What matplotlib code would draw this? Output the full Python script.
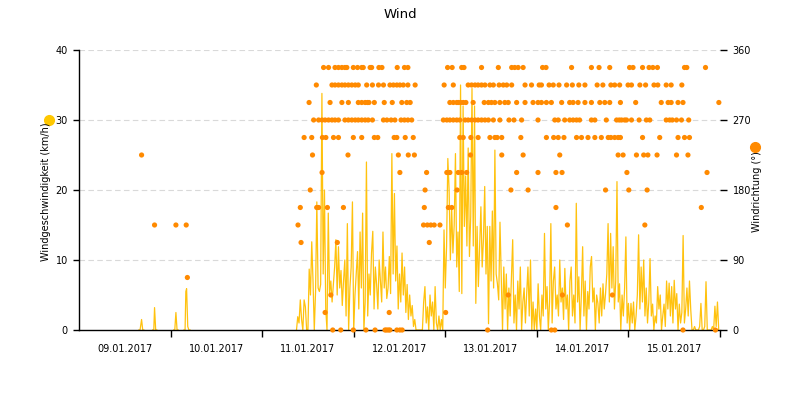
import matplotlib
matplotlib.use("Agg")
import matplotlib.pyplot as plt
import matplotlib.dates as mdates
import pandas as pd

# time origin of the chart
start = pd.Timestamp("2017-01-09 00:00")
end = pd.Timestamp("2017-01-16 00:00")

# short bursts of data on 09./10.01 (hours after start, km/h)
early_hours = [15.7, 16.0, 16.4, 16.7, 17.0,
               19.3, 19.6, 19.8, 20.1, 20.4,
               24.8, 25.1, 25.4, 25.7, 26.0,
               27.5, 27.8, 28.0, 28.2, 28.5, 28.8, 29.1]
early_speed = [0, 0, 1.5, 0, 0,
               0, 0, 3.2, 0, 0,
               0, 0, 2.5, 0, 0,
               0, 0, 5.5, 5.9, 0.5, 0, 0]

# continuous wind speed from 11.01 09:00, one value every 20 minutes (km/h)
speed_start = pd.Timestamp("2017-01-11 09:00")
speed = [
    0, 1.9, 1.0, 4.3, 1.5, 0, 4.3, 3.3, 0, 0, 8.7, 5.0, 12.6, 7.0, 0, 5.5, 18.3, 6.0, 5.5, 6.5, 33.8, 8.0, 20.0, 3.0,
    0, 16.7, 5.2, 7.0, 4.0, 6.5, 9.0, 12.9, 5.0, 11.9, 6.0, 8.5, 3.5, 7.0, 10.0, 2.0, 15.2, 0, 6.0, 9.0, 18.3, 0, 5.0, 8.0,
    11.2, 3.0, 14.0, 6.0, 16.7, 0, 4.0, 24.0, 2.0, 8.0, 5.0, 11.0, 14.1, 3.0, 9.0, 6.5, 3.0, 10.0, 7.0, 4.0, 14.0, 6.0, 9.0, 4.5,
    6.0, 10.5, 5.2, 25.2, 8.0, 19.5, 7.0, 12.0, 3.0, 8.0, 4.0, 11.0, 5.0, 9.0, 2.5, 6.5, 1.5, 5.0, 2.0, 3.5, 0.5, 1.5, 0, 0,
    0, 0, 0, 0, 4.0, 6.2, 1.0, 3.3, 0, 5.0, 2.0, 4.0, 0, 6.2, 1.0, 0, 2.0, 0, 1.5, 0, 14.3, 6.0, 11.9, 24.5,
    20.0, 10.0, 17.6, 11.0, 15.0, 25.2, 9.0, 14.0, 5.5, 35.0, 5.2, 32.0, 14.8, 22.0, 12.0, 26.0, 10.5, 16.2, 34.5, 12.0, 32.0, 3.8, 14.8, 6.2,
    12.0, 17.6, 9.0, 12.9, 20.5, 8.0, 14.8, 0.9, 14.8, 7.0, 17.0, 6.0, 25.7, 8.0, 6.6, 4.3, 15.4, 7.6, 0, 9.0, 3.0, 8.0, 0, 6.0,
    2.0, 7.6, 12.9, 1.0, 5.0, 0, 7.0, 3.0, 9.0, 0, 4.0, 6.0, 1.0, 5.2, 9.0, 2.0, 10.0, 0, 4.0, 0, 3.0, 0, 6.6, 2.0,
    0, 5.0, 2.0, 13.8, 3.0, 6.2, 0, 4.0, 15.2, 1.0, 7.0, 9.0, 3.0, 5.0, 2.0, 10.0, 4.0, 6.0, 1.5, 8.8, 3.0, 5.0, 0, 7.0,
    9.0, 2.0, 5.0, 1.0, 18.1, 4.0, 7.6, 0, 5.0, 11.9, 2.0, 7.0, 0, 5.5, 3.0, 9.0, 10.5, 4.0, 6.0, 0, 5.0, 3.8, 1.0, 6.0,
    2.0, 6.6, 3.0, 5.2, 8.0, 15.2, 4.0, 13.8, 6.0, 11.9, 3.0, 7.0, 21.2, 4.0, 6.6, 0, 5.0, 2.0, 6.0, 13.3, 1.0, 3.8, 0, 3.8,
    1.0, 4.0, 0, 2.0, 5.0, 13.6, 3.0, 9.0, 4.0, 10.0, 2.0, 6.0, 1.0, 4.0, 10.2, 2.0, 3.7, 0, 2.0, 1.0, 6.2, 3.0, 5.0, 0,
    2.0, 3.7, 0.5, 7.0, 3.0, 6.7, 2.0, 6.2, 1.0, 7.1, 3.0, 5.2, 0, 3.7, 1.0, 2.5, 13.5, 1.0, 3.0, 6.0, 2.0, 7.0, 2.9, 0,
    0, 0.5, 0, 0, 0, 0.5, 3.8, 0, 0, 0.5, 6.9, 0, 0, 0, 0, 0.5, 0, 3.4, 0.5, 4.0, 0,
]

# wind direction readings, grouped by compass sector (hours after start)
dir_nnw = [64.1, 65.4, 67.1, 68.0, 68.9, 69.7, 70.2, 71.9, 73.0, 74.1, 74.5, 76.3, 76.7, 78.6, 79.4, 83.4,
           85.3, 86.2, 96.6, 97.8, 100.3, 100.9, 105.5, 109.9, 113.4, 114.2, 115.1, 116.4, 121.5, 122.4,
           129.1, 134.3, 136.3, 139.1, 144.3, 145.2, 147.7, 149.4, 150.4, 151.6, 158.7, 159.3, 164.2]
dir_nw = [62.2, 66.3, 67.1, 68.0, 68.9, 69.7, 70.6, 71.5, 72.4, 73.2, 75.4, 76.9, 78.5, 79.8, 81.5, 82.4,
          83.3, 84.1, 85.0, 86.2, 88.1, 95.7, 98.1, 102.0, 102.9, 103.8, 104.6, 105.5, 106.4, 107.7, 108.6,
          110.1, 111.2, 112.1, 113.4, 116.9, 118.6, 120.6, 121.2, 123.2, 124.3, 125.8, 127.8, 129.3, 131.0,
          132.6, 135.8, 137.3, 139.4, 140.4, 141.7, 143.9, 144.8, 147.0, 148.5, 150.7, 151.7, 153.9, 155.2, 158.0]
dir_wnw = [60.3, 65.8, 68.9, 70.6, 73.2, 74.1, 75.0, 75.6, 76.0, 77.4, 80.0, 82.1, 84.6, 85.9, 86.8, 97.2,
           98.1, 99.0, 99.4, 100.0, 100.7, 101.4, 103.3, 106.2, 107.3, 108.1, 109.0, 110.3, 111.6, 112.5,
           114.7, 116.9, 119.0, 120.3, 121.2, 122.5, 123.8, 126.5, 128.6, 129.5, 130.8, 132.6, 134.3, 136.5,
           137.8, 139.1, 141.9, 145.9, 152.6, 154.4, 155.2, 157.0, 158.3, 167.7]
dir_w = [61.5, 62.8, 63.7, 64.5, 65.4, 66.3, 67.1, 68.0, 69.7, 70.6, 71.5, 72.4, 73.2, 74.1, 75.0, 75.8,
         76.9, 79.8, 80.7, 81.8, 82.8, 84.4, 85.3, 86.2, 87.2, 95.5, 96.4, 97.2, 98.1, 99.0, 99.8, 101.2,
         102.0, 102.9, 103.8, 104.6, 105.5, 106.4, 107.3, 108.6, 110.3, 112.7, 114.0, 116.0, 120.3, 124.7,
         125.6, 127.3, 128.6, 129.5, 130.4, 131.2, 134.3, 135.2, 138.2, 140.9, 141.6, 142.2, 143.0, 143.5,
         144.8, 146.8, 148.7, 149.6, 153.9, 154.8, 155.5, 156.6, 157.9, 159.8]
dir_wsw = [59.0, 61.0, 63.8, 64.7, 66.7, 68.0, 71.9, 74.1, 77.4, 78.3, 82.6, 83.3, 85.5, 87.6, 99.8, 100.7,
           102.7, 104.6, 107.7, 109.0, 109.6, 110.8, 115.8, 122.5, 124.4, 125.6, 127.1, 130.4, 131.7, 133.4,
           135.2, 136.9, 138.7, 139.4, 140.4, 141.3, 141.9, 147.7, 152.2, 157.0, 158.7, 160.0]
dir_sw = [16.4, 61.2, 70.5, 83.7, 86.3, 87.9, 102.6, 110.8, 116.4, 126.0, 141.3, 142.6, 146.1, 148.0,
          149.1, 151.5, 156.6, 159.6]
dir_ssw = [63.7, 84.1, 91.1, 96.4, 97.2, 99.4, 100.3, 101.6, 114.7, 120.3, 125.0, 126.6, 143.6, 164.6]
dir_s = [60.6, 90.7, 99.1, 113.2, 117.7, 138.0, 144.1, 148.9]
dir_sse = [58.0, 62.3, 62.8, 65.1, 69.3, 90.5, 96.8, 97.7, 125.0, 163.1]
dir_se = [19.8, 25.4, 28.1, 57.4, 90.3, 91.3, 92.2, 93.1, 94.6, 128.0, 148.3]
dir_ese = [58.2, 67.7, 91.8]
dir_ene = [28.4]
dir_ne = [66.0, 112.5, 126.7, 139.8]
dir_nne = [64.5, 81.3, 96.1]
dir_n = [66.5, 68.6, 71.9, 75.2, 77.6, 80.2, 80.6, 81.1, 81.5, 83.3, 84.1, 84.7, 107.1, 123.8, 124.7,
         158.3, 166.8]

sectors = [(337.5, dir_nnw), (315, dir_nw), (292.5, dir_wnw), (270, dir_w), (247.5, dir_wsw),
           (225, dir_sw), (202.5, dir_ssw), (180, dir_s), (157.5, dir_sse), (135, dir_se),
           (112.5, dir_ese), (67.5, dir_ene), (45, dir_ne), (22.5, dir_nne), (0, dir_n)]

speed_color = "#FFC20E"
dir_color = "#FF8A00"
grid_color = "#D9D9D9"
fs = 7

fig = plt.figure(figsize=(8, 4), dpi=100)
ax = fig.add_axes([79 / 800, 70 / 400, 641 / 800, 280 / 400])

# wind speed
t_early = start + pd.to_timedelta(early_hours, unit="h")
for a, b in [(0, 5), (5, 10), (10, 15), (15, 22)]:
    ax.plot(t_early[a:b], early_speed[a:b], color=speed_color, lw=0.9, zorder=2)
t_speed = pd.date_range(speed_start, periods=len(speed), freq="20min")
ax.plot(t_speed, speed, color=speed_color, lw=0.9, zorder=2)

ax.set_xlim(start, end)
ax.set_ylim(0, 40)
ax.set_yticks([0, 10, 20, 30, 40])
for v in [10, 20, 30, 40]:
    ax.axhline(v, color=grid_color, lw=0.8, ls=(0, (5, 3)), zorder=0)

ax.xaxis.set_major_locator(mdates.DayLocator(bymonthday=[10, 11, 12, 13, 14, 15, 16]))
ax.xaxis.set_major_formatter(plt.NullFormatter())
ax.xaxis.set_minor_locator(mdates.HourLocator(byhour=[12]))
ax.xaxis.set_minor_formatter(mdates.DateFormatter("%d.%m.%Y"))
ax.tick_params(axis="x", which="major", length=5, width=1, color="black")
ax.tick_params(axis="x", which="minor", length=0, pad=10, labelsize=fs)
ax.tick_params(axis="y", length=4, width=1, pad=4, labelsize=fs)

for side in ["top", "right"]:
    ax.spines[side].set_visible(False)
ax.spines["left"].set_linewidth(1)
ax.spines["bottom"].set_linewidth(1)

# wind direction on the right axis
ax2 = ax.twinx()
for deg, hours in sectors:
    t = start + pd.to_timedelta(hours, unit="h")
    ax2.scatter(t, [deg] * len(hours), s=14, color=dir_color, edgecolors="none", zorder=3, clip_on=False)
ax2.set_ylim(0, 360)
ax2.set_yticks([0, 90, 180, 270, 360])
ax2.tick_params(axis="y", length=5, width=1, pad=4, labelsize=fs)
for side in ["top", "left", "right", "bottom"]:
    ax2.spines[side].set_visible(False)
ax2.set_xlim(start, end)

# titles and axis labels
fig.text(0.5, 1 - 15 / 400, "Wind", ha="center", va="center", fontsize=9.5)
fig.text(46 / 800, 1 - 192 / 400, "Windgeschwindigkeit (km/h)", rotation=90,
         ha="center", va="center", fontsize=fs)
fig.text(757 / 800, 1 - 192 / 400, "Windrichtung (°)", rotation=90,
         ha="center", va="center", fontsize=fs)
fig.lines.append(plt.Line2D([49 / 800], [1 - 120 / 400], marker="o", ms=7, color="#FFC800",
                            transform=fig.transFigure, figure=fig))
fig.lines.append(plt.Line2D([755 / 800], [1 - 147 / 400], marker="o", ms=7, color=dir_color,
                            transform=fig.transFigure, figure=fig))

fig.savefig("out.png", dpi=100)
